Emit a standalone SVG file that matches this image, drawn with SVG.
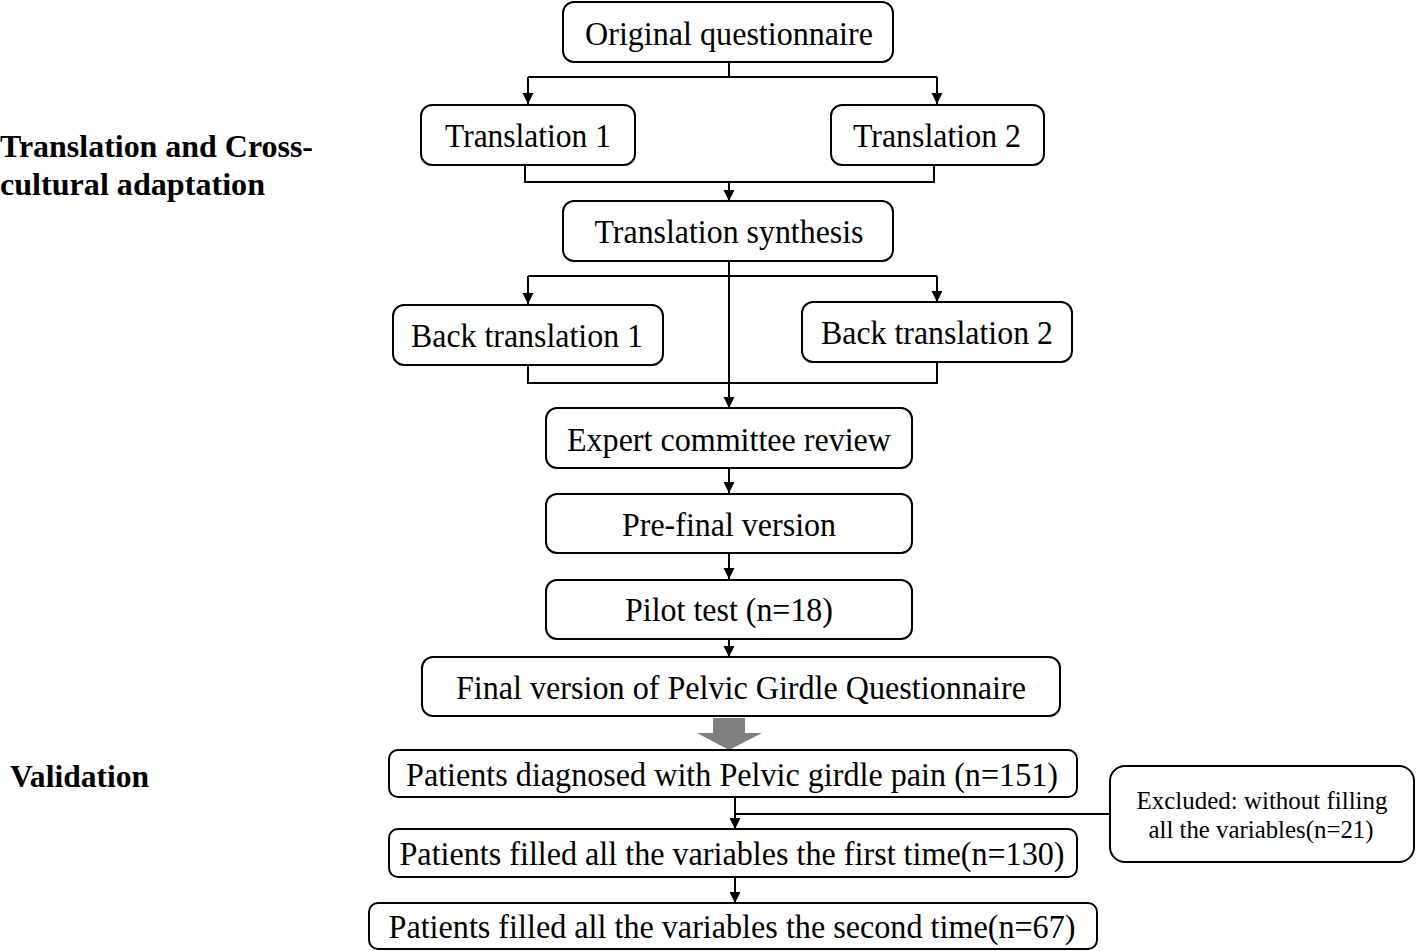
<svg xmlns="http://www.w3.org/2000/svg" width="1416" height="951" viewBox="0 0 1416 951">
<defs>
<style>
.box{fill:#fff;stroke:#000;stroke-width:2}
.t{font-family:"Liberation Serif","Times New Roman",serif;font-size:33px;fill:#000;text-anchor:middle}
.s{font-family:"Liberation Serif","Times New Roman",serif;font-size:25px;fill:#000;text-anchor:middle}
.lbl{font-family:"Liberation Serif","Times New Roman",serif;font-size:32px;font-weight:bold;fill:#000}
.ln{fill:none;stroke:#000;stroke-width:2}
.ar{fill:none;stroke:#000;stroke-width:2;marker-end:url(#ah)}
</style>
<marker id="ah" viewBox="0 0 10 10" refX="10" refY="5" markerWidth="5.5" markerHeight="6" orient="auto" markerUnits="strokeWidth">
<path d="M0,0 L10,5 L0,10 z" fill="#000"/>
</marker>
</defs>
<rect width="1416" height="951" fill="#fff"/>

<g id="labels">
<text class="lbl" x="0" y="157" textLength="313" lengthAdjust="spacingAndGlyphs">Translation and Cross-</text>
<text class="lbl" x="0" y="195" textLength="265" lengthAdjust="spacingAndGlyphs">cultural adaptation</text>
<text class="lbl" x="10" y="787" textLength="139" lengthAdjust="spacingAndGlyphs">Validation</text>
</g>

<g id="connectors">
<path class="ln" d="M729,62 V77 M528,77 H937"/>
<path class="ar" d="M528,77 V104"/>
<path class="ar" d="M937,77 V104"/>
<path class="ln" d="M525,165 V182 H934 V165"/>
<path class="ar" d="M729,182 V201"/>
<path class="ln" d="M528,276 H937"/>
<path class="ar" d="M528,276 V304"/>
<path class="ar" d="M937,276 V302"/>
<path class="ar" d="M729,261 V408"/>
<path class="ln" d="M528,365 V383 H937 V362"/>
<path class="ar" d="M729,468 V493"/>
<path class="ar" d="M729,553 V579"/>
<path class="ar" d="M729,639 V657"/>
<path d="M713,718 H745 V733 H762 L729,750 L697,733 H713 Z" fill="#808080"/>
<path class="ar" d="M735,797 V829"/>
<path class="ln" d="M735,814 H1110"/>
<path class="ar" d="M735,877 V903"/>
</g>

<g id="n1"><rect class="box" x="563" y="2" width="330" height="60" rx="11"/><text class="t" x="729" y="45" textLength="288" lengthAdjust="spacingAndGlyphs">Original questionnaire</text></g>
<g id="n2"><rect class="box" x="421" y="105" width="214" height="60" rx="11"/><text class="t" x="528" y="147" textLength="166" lengthAdjust="spacingAndGlyphs">Translation 1</text></g>
<g id="n3"><rect class="box" x="831" y="105" width="213" height="60" rx="11"/><text class="t" x="937" y="147" textLength="168" lengthAdjust="spacingAndGlyphs">Translation 2</text></g>
<g id="n4"><rect class="box" x="563" y="201" width="330" height="60" rx="11"/><text class="t" x="729" y="243" textLength="269" lengthAdjust="spacingAndGlyphs">Translation synthesis</text></g>
<g id="n5"><rect class="box" x="393" y="305" width="270" height="60" rx="11"/><text class="t" x="527" y="347" textLength="232" lengthAdjust="spacingAndGlyphs">Back translation 1</text></g>
<g id="n6"><rect class="box" x="802" y="302" width="270" height="60" rx="11"/><text class="t" x="937" y="344" textLength="232" lengthAdjust="spacingAndGlyphs">Back translation 2</text></g>
<g id="n7"><rect class="box" x="546" y="408" width="366" height="60" rx="11"/><text class="t" x="729" y="451" textLength="324" lengthAdjust="spacingAndGlyphs">Expert committee review</text></g>
<g id="n8"><rect class="box" x="546" y="494" width="366" height="59" rx="11"/><text class="t" x="729" y="536" textLength="214" lengthAdjust="spacingAndGlyphs">Pre-final version</text></g>
<g id="n9"><rect class="box" x="546" y="580" width="366" height="59" rx="11"/><text class="t" x="729" y="621" textLength="208" lengthAdjust="spacingAndGlyphs">Pilot test (n=18)</text></g>
<g id="n10"><rect class="box" x="422" y="657" width="638" height="59" rx="11"/><text class="t" x="741" y="699" textLength="570" lengthAdjust="spacingAndGlyphs">Final version of Pelvic Girdle Questionnaire</text></g>
<g id="n11"><rect class="box" x="389" y="750" width="688" height="47" rx="9"/><text class="t" x="732" y="786" textLength="652" lengthAdjust="spacingAndGlyphs">Patients diagnosed with Pelvic girdle pain (n=151)</text></g>
<g id="n12"><rect class="box" x="1110" y="766" width="304" height="96" rx="15"/><text class="s" x="1262" y="809" textLength="251" lengthAdjust="spacingAndGlyphs">Excluded: without filling</text><text class="s" x="1261" y="838" textLength="225" lengthAdjust="spacingAndGlyphs">all the variables(n=21)</text></g>
<g id="n13"><rect class="box" x="389" y="829" width="688" height="48" rx="9"/><text class="t" x="732" y="865" textLength="665" lengthAdjust="spacingAndGlyphs">Patients filled all the variables the first time(n=130)</text></g>
<g id="n14"><rect class="box" x="369" y="903" width="728" height="46" rx="9"/><text class="t" x="732" y="938" textLength="687" lengthAdjust="spacingAndGlyphs">Patients filled all the variables the second time(n=67)</text></g>
</svg>
